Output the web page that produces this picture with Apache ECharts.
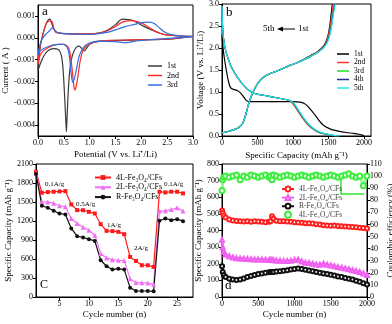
<!DOCTYPE html>
<html>
<head>
<meta charset="utf-8">
<script src="https://cdn.jsdelivr.net/npm/echarts@6/dist/echarts.min.js"></script>
<style>
  html, body { margin: 0; padding: 0; background: #fff; }
  #chart { width: 392px; height: 324px; }
</style>
</head>
<body>
<div id="chart"></div>
<script>
// ---- panel a: CV curves [potential V, current A] ----
const cv1st = [[3.0,0.00006],[2.7,-0.00003],[2.4,-0.00008],[2.0,-0.0001],[1.6,-0.00012],[1.3,-0.00014],[1.1,-0.0002],[1.0,-0.0003],[0.95,-0.00045],[0.9,-0.0006],[0.85,-0.0005],[0.8,-0.00038],[0.75,-0.00042],[0.7,-0.0006],[0.65,-0.00095],[0.62,-0.0014],[0.6,-0.0019],[0.58,-0.0027],[0.56,-0.0038],[0.55,-0.0043],[0.54,-0.0039],[0.52,-0.0029],[0.5,-0.002],[0.48,-0.0013],[0.45,-0.0008],[0.4,-0.00055],[0.3,-0.0005],[0.2,-0.00058],[0.12,-0.0008],[0.06,-0.0011],[0.0,-0.0015],
  [0.02,-0.0009],[0.05,-0.0003],[0.1,0.0002],[0.15,0.0006],[0.2,0.00082],[0.23,0.00085],[0.26,0.0007],[0.3,0.00042],[0.35,0.00026],[0.45,0.0002],[0.7,0.00018],[1.0,0.00018],[1.2,0.00022],[1.35,0.00035],[1.5,0.0006],[1.6,0.00082],[1.65,0.00085],[1.75,0.00083],[1.85,0.00078],[1.95,0.00065],[2.05,0.00052],[2.2,0.00036],[2.35,0.00022],[2.5,0.00013],[2.75,0.00008],[3.0,0.00006]];
const cv2nd = [[3.0,0.00006],[2.6,-0.00004],[2.2,-0.00008],[1.8,-0.0001],[1.4,-0.00012],[1.1,-0.00018],[1.0,-0.0003],[0.93,-0.0004],[0.87,-0.0006],[0.83,-0.0009],[0.8,-0.0013],[0.77,-0.0018],[0.74,-0.0022],[0.72,-0.0024],[0.7,-0.0023],[0.68,-0.0019],[0.65,-0.0012],[0.62,-0.0007],[0.58,-0.00042],[0.5,-0.0003],[0.4,-0.0003],[0.3,-0.00034],[0.2,-0.00045],[0.1,-0.0006],[0.04,-0.0008],[0.0,-0.0012],
  [0.02,-0.0007],[0.06,-0.0002],[0.1,0.0002],[0.15,0.0006],[0.2,0.00075],[0.25,0.00077],[0.28,0.0007],[0.31,0.0004],[0.35,0.00024],[0.45,0.0002],[0.7,0.00018],[1.0,0.00018],[1.2,0.00022],[1.35,0.00033],[1.5,0.00052],[1.6,0.00068],[1.7,0.00076],[1.8,0.00078],[1.9,0.00075],[2.0,0.00068],[2.1,0.00055],[2.2,0.0004],[2.3,0.00026],[2.45,0.00014],[2.7,0.00009],[3.0,0.00006]];
const cv3rd = [[3.0,0.00005],[2.6,-0.00002],[2.2,-0.00008],[1.9,-0.00015],[1.7,-0.00022],[1.5,-0.00018],[1.2,-0.00015],[1.05,-0.0002],[0.95,-0.0003],[0.88,-0.00045],[0.82,-0.0007],[0.78,-0.001],[0.74,-0.0015],[0.7,-0.0019],[0.67,-0.00205],[0.65,-0.0018],[0.62,-0.0011],[0.59,-0.0006],[0.55,-0.0004],[0.5,-0.0003],[0.4,-0.0003],[0.3,-0.00033],[0.2,-0.0004],[0.1,-0.0005],[0.04,-0.0006],[0.0,-0.0008],
  [0.03,-0.0004],[0.07,-0.0001],[0.12,0.00008],[0.18,0.00022],[0.23,0.00034],[0.28,0.00046],[0.32,0.00036],[0.37,0.00024],[0.45,0.0002],[0.7,0.00017],[1.0,0.00016],[1.2,0.0002],[1.4,0.00028],[1.55,0.0004],[1.7,0.00052],[1.85,0.0006],[1.95,0.00066],[2.05,0.0007],[2.15,0.00072],[2.25,0.00065],[2.35,0.00045],[2.45,0.00026],[2.6,0.00013],[2.8,0.00008],[3.0,0.00005]];

// ---- panel b: discharge / charge [capacity mAh/g, voltage V] ----
const dis1st = [[0,2.3],[15,2.0],[35,1.75],[60,1.5],[90,1.25],[120,1.1],[160,1.06],[220,1.03],[260,0.98],[300,0.9],[340,0.81],[380,0.78],[600,0.78],[800,0.78],[1000,0.78],[1100,0.77],[1160,0.74],[1200,0.69],[1250,0.6],[1300,0.5],[1350,0.39],[1400,0.29],[1450,0.22],[1500,0.18],[1560,0.14],[1640,0.11],[1750,0.08],[1850,0.06],[1930,0.04],[1980,0.02],[2000,0]];
const dis2nd = [[0,2.95],[5,2.6],[15,2.32],[30,2.12],[50,1.95],[80,1.79],[120,1.61],[180,1.43],[240,1.28],[300,1.16],[360,1.06],[430,0.99],[500,0.95],[600,0.92],[700,0.89],[800,0.86],[900,0.83],[950,0.8],[990,0.75],[1030,0.66],[1070,0.56],[1110,0.46],[1150,0.37],[1190,0.29],[1240,0.21],[1290,0.15],[1340,0.1],[1410,0.06],[1490,0.03],[1560,0.01],[1610,0]];
const dis3rd = [[0,2.95],[5,2.6],[15,2.32],[30,2.12],[50,1.95],[80,1.79],[120,1.61],[180,1.43],[240,1.28],[300,1.16],[360,1.06],[430,0.99],[500,0.95],[600,0.92],[700,0.89],[800,0.86],[900,0.83],[960,0.8],[1000,0.75],[1040,0.66],[1080,0.56],[1120,0.46],[1160,0.37],[1200,0.29],[1250,0.21],[1300,0.15],[1350,0.1],[1420,0.06],[1500,0.03],[1580,0.01],[1630,0]];
const dis4th = [[0,2.95],[5,2.6],[15,2.32],[30,2.12],[50,1.95],[80,1.79],[120,1.61],[180,1.43],[240,1.28],[300,1.16],[360,1.06],[430,0.99],[500,0.95],[600,0.92],[700,0.89],[800,0.86],[900,0.83],[965,0.8],[1005,0.75],[1045,0.66],[1085,0.56],[1125,0.46],[1165,0.37],[1205,0.29],[1255,0.21],[1305,0.15],[1355,0.1],[1425,0.06],[1510,0.03],[1590,0.01],[1645,0]];
const dis5th = [[0,2.95],[5,2.6],[15,2.32],[30,2.12],[50,1.95],[80,1.79],[120,1.61],[180,1.43],[240,1.28],[300,1.16],[360,1.06],[430,0.99],[500,0.95],[600,0.92],[700,0.89],[800,0.86],[900,0.83],[970,0.8],[1010,0.75],[1050,0.66],[1090,0.56],[1130,0.46],[1170,0.37],[1210,0.29],[1260,0.21],[1310,0.15],[1365,0.1],[1435,0.06],[1520,0.03],[1600,0.01],[1665,0]];
const chg1st = [[0,0.07],[60,0.09],[120,0.12],[180,0.15],[230,0.19],[270,0.24],[300,0.32],[330,0.46],[360,0.64],[390,0.8],[420,0.93],[450,1.04],[490,1.16],[540,1.27],[600,1.35],[680,1.42],[760,1.47],[850,1.53],[950,1.6],[1050,1.66],[1150,1.74],[1250,1.83],[1330,1.9],[1400,1.99],[1445,2.08],[1475,2.18],[1500,2.32],[1520,2.52],[1535,2.72],[1548,2.9],[1555,3.0]];
const chg2nd = [[0,0.07],[60,0.09],[120,0.12],[180,0.15],[230,0.19],[270,0.24],[300,0.32],[330,0.46],[360,0.64],[390,0.8],[420,0.93],[450,1.04],[490,1.16],[540,1.27],[600,1.35],[680,1.42],[760,1.47],[850,1.53],[950,1.6],[1050,1.66],[1150,1.74],[1250,1.82],[1330,1.89],[1400,1.98],[1450,2.08],[1485,2.2],[1510,2.36],[1530,2.55],[1548,2.76],[1562,2.92],[1570,3.0]];
const chg3rd = [[0,0.07],[60,0.09],[120,0.12],[180,0.15],[230,0.19],[270,0.24],[300,0.32],[330,0.46],[360,0.64],[390,0.8],[420,0.93],[450,1.04],[490,1.16],[540,1.27],[600,1.35],[680,1.42],[760,1.47],[850,1.53],[950,1.6],[1050,1.66],[1150,1.73],[1250,1.81],[1330,1.88],[1410,1.98],[1460,2.08],[1495,2.2],[1522,2.36],[1543,2.56],[1562,2.78],[1578,2.94],[1588,3.0]];
const chg4th = [[0,0.07],[60,0.09],[120,0.12],[180,0.15],[230,0.19],[270,0.24],[300,0.32],[330,0.46],[360,0.64],[390,0.8],[420,0.93],[450,1.04],[490,1.16],[540,1.27],[600,1.35],[680,1.42],[760,1.47],[850,1.53],[950,1.6],[1050,1.66],[1150,1.73],[1250,1.81],[1330,1.88],[1410,1.98],[1462,2.08],[1498,2.2],[1525,2.36],[1547,2.56],[1566,2.78],[1582,2.94],[1592,3.0]];
const chg5th = [[0,0.07],[60,0.09],[120,0.12],[180,0.15],[230,0.19],[270,0.24],[300,0.32],[330,0.46],[360,0.64],[390,0.8],[420,0.93],[450,1.04],[490,1.16],[540,1.27],[600,1.35],[680,1.42],[760,1.47],[850,1.53],[950,1.6],[1050,1.66],[1150,1.73],[1250,1.81],[1330,1.88],[1415,1.98],[1468,2.08],[1503,2.2],[1530,2.36],[1552,2.56],[1572,2.78],[1590,2.94],[1600,3.0]];

// ---- panel c: rate performance ----
const cycleC = [1,2,3,4,5,6,7,8,9,10,11,12,13,14,15,16,17,18,19,20,21,22,23,24,25,26];
const rate4L = [1978,1646,1657,1662,1667,1672,1461,1372,1370,1345,1319,1150,1045,1040,1029,992,633,570,501,501,475,1662,1651,1662,1662,1636];
const rate2L = [1960,1504,1500,1480,1440,1425,1240,1160,1100,1055,976,686,617,590,580,575,290,227,225,220,200,1356,1360,1380,1409,1356];
const rateR = [1942,1440,1409,1361,1319,1303,1082,960,939,913,886,580,485,433,448,433,148,95,95,95,90,1203,1240,1213,1229,1198];

// ---- panel d: long cycling ----
const cycleD = [1,10,25,50,100,150,200,250,300,350,400,450,500,550,600,650,670,690,710,750,800,850,900,950,1000,1050,1100,1150,1200,1250,1300,1350,1400,1450,1500,1550,1600,1650,1700,1750,1800,1850,1900,1950,2000];
const cap4L = [520,505,490,478,466,460,457,455,454,455,453,455,454,452,450,452,455,486,470,458,455,455,454,452,450,448,446,444,443,442,438,436,432,430,428,430,427,425,424,422,421,420,417,415,412];
const cap2L = [345,300,270,255,245,238,233,231,230,229,227,226,226,225,224,222,222,222,221,220,218,217,216,218,222,224,214,206,204,200,196,194,200,194,190,185,180,176,172,167,161,157,150,142,132];
const capR = [185,150,132,120,110,105,103,106,112,120,127,133,138,142,146,149,150,150,151,153,155,158,161,165,168,171,169,164,159,155,150,146,142,138,134,129,124,120,115,110,105,98,91,83,75];
const ce4L = [88,97,99,100,99,100,101,97,100,99,101,100,99,100,101,99,100,97,101,100,99,100,101,100,99,100,101,100,99,100,101,100,99,100,101,100,99,100,101,102,100,99,100,92,100];

const FONT = 'Liberation Serif';
const pairs = (xs, ys) => xs.map((x, i) => [x, ys[i]]);

function axis(o) {
  return Object.assign({
    type: 'value',
    nameLocation: 'middle',
    nameTextStyle: { fontFamily: FONT, fontSize: 9, color: '#000' },
    axisLine: { show: true, onZero: false, lineStyle: { color: '#000', width: 1 } },
    axisTick: { show: true, length: 3, lineStyle: { color: '#000' }, customValues: o.ticks },
    axisLabel: { fontFamily: FONT, fontSize: 8, color: '#000', margin: 3,
      formatter: o.fmt || (v => String(v)), customValues: o.ticks },
    splitLine: { show: false }
  }, o.base);
}

function cvLine(name, data, color) {
  return { name: name, type: 'line', xAxisIndex: 0, yAxisIndex: 0, data: data, symbol: 'none',
    smooth: 0.2, lineStyle: { color: color, width: 1.2 }, itemStyle: { color: color } };
}
function gcdLine(name, data, color) {
  return { name: name, type: 'line', xAxisIndex: 1, yAxisIndex: 1, data: data, symbol: 'none',
    smooth: 0.2, lineStyle: { color: color, width: 1.2 }, itemStyle: { color: color } };
}

const legendText = { fontFamily: FONT, fontSize: 8, color: '#000' };
const labelsB = { 'b1': '1st', 'b2': '2nd', 'b3': '3rd', 'b4': '4th', 'b5': '5th' };
const labelsD = { 'd4L': '4L-Fe₃O₄/CFs', 'd2L': '2L-Fe₃O₄/CFs', 'dR': 'R-Fe₃O₄/CFs', 'dCE': '4L-Fe₃O₄/CFs' };

const chart = echarts.init(document.getElementById('chart'));

const option = {
  animation: false,
  backgroundColor: '#fff',
  grid: [
    { left: 38, top: 5, width: 155, height: 131 },
    { left: 222, top: 4, width: 149, height: 132 },
    { left: 36, top: 164, width: 157, height: 133 },
    { left: 222, top: 164, width: 145, height: 133 }
  ].map(g => Object.assign(g, { show: true, borderColor: '#000', borderWidth: 1, outerBoundsMode: 'none' })),
  xAxis: [
    axis({ fmt: v => v.toFixed(1), base: { gridIndex: 0, min: 0, max: 3, interval: 0.5,
      name: 'Potential (V vs. Li⁺/Li)', nameGap: 14 } }),
    axis({ ticks: [0, 500, 1000, 1500, 2000], base: { gridIndex: 1, min: 0, max: 2100,
      name: 'Specific Capacity (mAh g⁻¹)', nameGap: 15 } }),
    axis({ ticks: [5, 10, 15, 20, 25], base: { gridIndex: 2, min: 1, max: 27.7,
      name: 'Cycle number (n)', nameGap: 13 } }),
    axis({ base: { gridIndex: 3, min: 0, max: 2000, interval: 500,
      name: 'Cycle number (n)', nameGap: 13 } })
  ],
  yAxis: [
    axis({ ticks: [-0.004, -0.003, -0.002, -0.001, 0, 0.001], fmt: v => v.toFixed(3),
      base: { gridIndex: 0, min: -0.0045, max: 0.0015, name: 'Current ( A )', nameGap: 24 } }),
    axis({ fmt: v => v.toFixed(1), base: { gridIndex: 1, min: 0, max: 3, interval: 0.5,
      name: 'Voltage (V vs. Li⁺/Li)', nameGap: 17 } }),
    axis({ base: { gridIndex: 2, min: 0, max: 2100, interval: 300,
      name: 'Specific Capacity (mAh g⁻¹)', nameGap: 23 } }),
    axis({ base: { gridIndex: 3, min: 0, max: 800, interval: 100,
      name: 'Specific Capacity (mAh g⁻¹)', nameGap: 17 } }),
    axis({ base: { gridIndex: 3, position: 'right', min: 0, max: 110, interval: 10,
      name: 'Coulombic efficiency (%)', nameGap: 15, nameRotate: 90 } })
  ],
  legend: [
    { data: ['1st', '2nd', '3rd'], orient: 'vertical', left: 143, top: 57, icon: 'rect', itemWidth: 14, itemHeight: 1.5,
      itemGap: 1.5, textStyle: legendText },
    { data: ['b1', 'b2', 'b3', 'b4', 'b5'], formatter: n => labelsB[n], orient: 'vertical', left: 332, top: 45,
      icon: 'rect', itemWidth: 12, itemHeight: 1.5, itemGap: 0.5, textStyle: Object.assign({}, legendText, { fontSize: 7.5 }) },
    { data: ['4L-Fe₃O₄/CFs', '2L-Fe₃O₄/CFs', 'R-Fe₃O₄/CFs'], orient: 'vertical', left: 89, top: 168.5,
      itemWidth: 16, itemHeight: 6, itemGap: 1.8, textStyle: legendText },
    { data: ['d4L', 'd2L', 'dR', { name: 'dCE', icon: 'emptyCircle' }], formatter: n => labelsD[n], orient: 'vertical', left: 276, top: 180,
      itemWidth: 12, itemHeight: 6, itemGap: 0.6, textStyle: Object.assign({}, legendText, { fontSize: 7.5, color: '#444' }) }
  ],
  series: [
    cvLine('1st', cv1st, '#3a3a3a'),
    cvLine('2nd', cv2nd, '#ff2a2a'),
    cvLine('3rd', cv3rd, '#2f6fe0'),

    gcdLine('b1', dis1st, '#000000'), gcdLine('b1', chg1st, '#000000'),
    gcdLine('b2', dis2nd, '#ff3030'), gcdLine('b2', chg2nd, '#ff3030'),
    gcdLine('b3', dis3rd, '#22e022'), gcdLine('b3', chg3rd, '#22e022'),
    gcdLine('b4', dis4th, '#2b2b9c'), gcdLine('b4', chg4th, '#2b2b9c'),
    gcdLine('b5', dis5th, '#20e8e8'), gcdLine('b5', chg5th, '#20e8e8'),

    { name: '4L-Fe₃O₄/CFs', type: 'line', xAxisIndex: 2, yAxisIndex: 2, data: pairs(cycleC, rate4L),
      symbol: 'rect', symbolSize: 4, lineStyle: { color: '#ff1a1a', width: 1.2 }, itemStyle: { color: '#ff1a1a' } },
    { name: '2L-Fe₃O₄/CFs', type: 'line', xAxisIndex: 2, yAxisIndex: 2, data: pairs(cycleC, rate2L),
      symbol: 'triangle', symbolSize: 5, lineStyle: { color: '#f46ef4', width: 1.2 }, itemStyle: { color: '#f46ef4' } },
    { name: 'R-Fe₃O₄/CFs', type: 'line', xAxisIndex: 2, yAxisIndex: 2, data: pairs(cycleC, rateR),
      symbol: 'circle', symbolSize: 4, lineStyle: { color: '#111', width: 1.2 }, itemStyle: { color: '#111' } },

    { name: 'dCE', type: 'line', xAxisIndex: 3, yAxisIndex: 4, data: pairs(cycleD, ce4L),
      symbol: 'emptyCircle', symbolSize: 5, lineStyle: { color: '#9af59a', width: 3 },
      itemStyle: { color: '#3dee3d', borderWidth: 0.8 } },
    { name: 'd4L', type: 'line', xAxisIndex: 3, yAxisIndex: 3, data: pairs(cycleD, cap4L),
      symbol: 'emptyCircle', symbolSize: 4, lineStyle: { color: '#ff2020', width: 2.5 }, itemStyle: { color: '#ff2020', borderWidth: 0.8 } },
    { name: 'd2L', type: 'line', xAxisIndex: 3, yAxisIndex: 3, data: pairs(cycleD, cap2L),
      symbol: 'emptyTriangle', symbolSize: 4, lineStyle: { color: '#f060f0', width: 2.5 }, itemStyle: { color: '#f060f0', borderWidth: 0.8 } },
    { name: 'dR', type: 'line', xAxisIndex: 3, yAxisIndex: 3, data: pairs(cycleD, capR),
      symbol: 'emptyCircle', symbolSize: 4, lineStyle: { color: '#111', width: 2.5 }, itemStyle: { color: '#111', borderWidth: 0.8 } }
  ],
  graphic: [
    { type: 'text', left: 42, top: 5, style: { text: 'a', font: '13px "Liberation Serif"', fill: '#000' } },
    { type: 'text', left: 226, top: 6, style: { text: 'b', font: '13px "Liberation Serif"', fill: '#000' } },
    { type: 'text', left: 40, top: 279, style: { text: 'C', font: '12px "Liberation Serif"', fill: '#000' } },
    { type: 'text', left: 225, top: 279, style: { text: 'd', font: '13px "Liberation Serif"', fill: '#000' } },
    { type: 'text', left: 263, top: 24, style: { text: '5th', font: '9px "Liberation Serif"', fill: '#000' } },
    { type: 'text', left: 298, top: 24, style: { text: '1st', font: '9px "Liberation Serif"', fill: '#000' } },
    { type: 'line', shape: { x1: 282, y1: 29, x2: 295, y2: 29 }, style: { stroke: '#000', lineWidth: 1 } },
    { type: 'polygon', shape: { points: [[277, 29], [283, 26.5], [283, 31.5]] }, style: { fill: '#000' } },
    { type: 'text', left: 45, top: 181, style: { text: '0.1A/g', font: '7px "Liberation Serif"', fill: '#000' } },
    { type: 'text', left: 76, top: 201, style: { text: '0.5A/g', font: '7px "Liberation Serif"', fill: '#000' } },
    { type: 'text', left: 107, top: 222, style: { text: '1A/g', font: '7px "Liberation Serif"', fill: '#000' } },
    { type: 'text', left: 134, top: 245, style: { text: '2A/g', font: '7px "Liberation Serif"', fill: '#000' } },
    { type: 'text', left: 164, top: 181, style: { text: '0.1A/g', font: '7px "Liberation Serif"', fill: '#000' } },
    { type: 'polyline', shape: { points: [[341, 178], [341, 194], [364, 194]] }, style: { stroke: '#2ee62e', lineWidth: 1.5, fill: null } }
  ]
};

chart.setOption(option);
</script>
</body>
</html>
